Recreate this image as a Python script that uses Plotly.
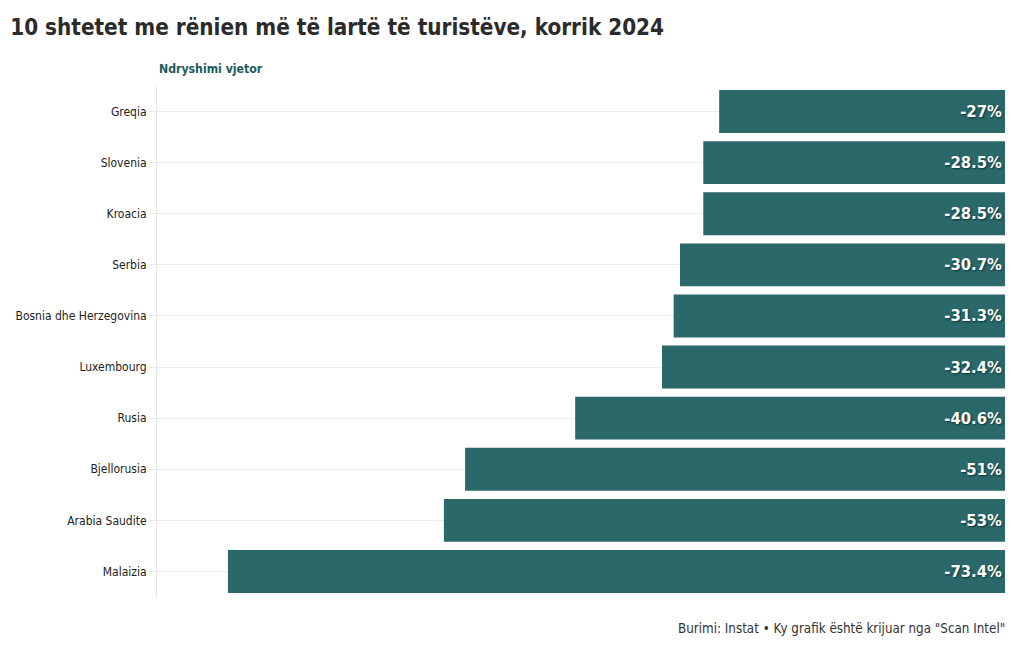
import plotly.graph_objects as go

countries = ["Greqia", "Slovenia", "Kroacia", "Serbia", "Bosnia dhe Herzegovina",
             "Luxembourg", "Rusia", "Bjellorusia", "Arabia Saudite", "Malaizia"]
changes = [-27, -28.5, -28.5, -30.7, -31.3, -32.4, -40.6, -51, -53, -73.4]
labels = ["-27%", "-28.5%", "-28.5%", "-30.7%", "-31.3%", "-32.4%", "-40.6%", "-51%", "-53%", "-73.4%"]

FONT = "DejaVu Sans Condensed, DejaVu Sans, sans-serif"

fig = go.Figure(go.Bar(
    x=changes, y=countries, orientation="h",
    marker=dict(color="#2a686a", line=dict(width=0)),
    text=labels, textposition="inside", insidetextanchor="start",
    textfont=dict(family=FONT, size=16.5, color="white", weight="bold",
                  shadow="1px 1px 2px #0a3434"),
    constraintext="none", cliponaxis=False,
    hoverinfo="skip",
))

fig.update_layout(
    width=1020, height=650,
    margin=dict(l=157, r=15, t=86, b=53),
    paper_bgcolor="white", plot_bgcolor="white",
    bargap=0.16,
    showlegend=False,
    font=dict(family=FONT, color="#222"),
    title=dict(text="10 shtetet me rënien më të lartë të turistëve, korrik 2024",
               x=0.01, xanchor="left", y=0.958, yanchor="middle",
               font=dict(family=FONT, size=22.3, color="#2b2b2b", weight="bold")),
    annotations=[
        dict(text="Ndryshimi vjetor", xref="paper", yref="paper", x=0, y=1.016,
             xanchor="left", yanchor="bottom", showarrow=False,
             font=dict(family=FONT, size=12.2, color="#1d5a5b", weight="bold")),
        dict(text='Burimi: Instat • Ky grafik është krijuar nga "Scan Intel"',
             xref="paper", yref="paper", x=1.002, y=-0.062, xanchor="right", yanchor="middle",
             showarrow=False, font=dict(family=FONT, size=13.3, color="#333")),
    ],
)
fig.update_xaxes(range=[-80.1, 0], showgrid=False, zeroline=False, showticklabels=False,
                 fixedrange=True)
fig.update_yaxes(autorange="reversed", showgrid=True, gridcolor="#ececec", gridwidth=1,
                 showline=True, linecolor="#e6e6e6", linewidth=1,
                 ticks="outside", ticklen=7, tickcolor="#e6e6e6",
                 tickfont=dict(family=FONT, size=12, color="#222"),
                 ticklabelstandoff=0, automargin=False, fixedrange=True)

fig.write_html("out.html", config={"displayModeBar": False},
               post_script="document.body.style.margin='0';")
